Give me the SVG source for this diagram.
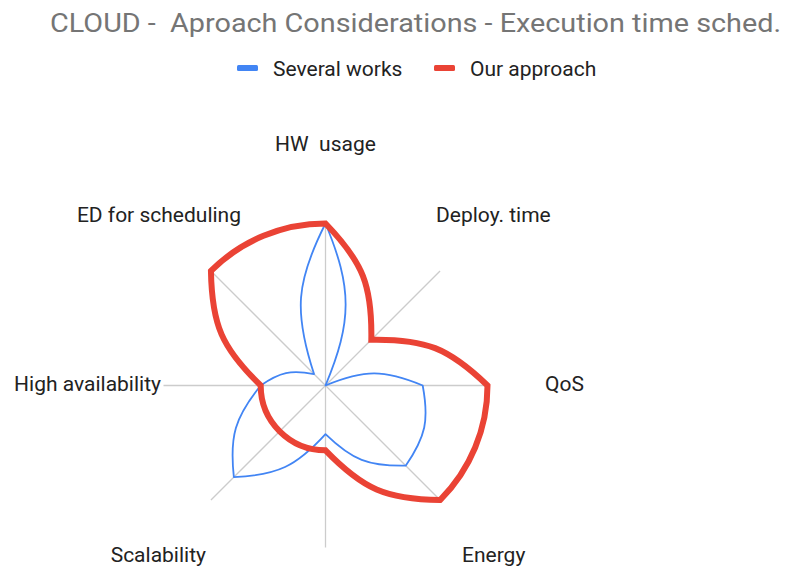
<svg xmlns="http://www.w3.org/2000/svg" width="787" height="570" viewBox="0 0 787 570">
<style>
text{font-family:Roboto,"Liberation Sans",Arial,sans-serif}
.title{font-size:26px;fill:#757575}
.leg{font-size:21px;fill:#222}
.lbl{font-size:21px;fill:#222}
.spoke{stroke:#cccccc;stroke-width:1.3;fill:none}
.blue{stroke:#4285f4;stroke-width:1.8;fill:none;stroke-linejoin:round}
.red{stroke:#ea4335;stroke-width:6;fill:none;stroke-linejoin:miter}
</style>
<rect width="787" height="570" fill="#ffffff"/>
<text class="title" x="50" y="32" xml:space="preserve" textLength="731" lengthAdjust="spacingAndGlyphs">CLOUD -  Aproach Considerations - Execution time sched.</text>
<g id="legend">
<rect x="237" y="65" width="21" height="6" rx="1.5" fill="#4285f4"/>
<text class="leg" x="273" y="75.5">Several works</text>
<rect x="434" y="65" width="21" height="6" rx="1.5" fill="#ea4335"/>
<text class="leg" x="470" y="75.5">Our approach</text>
</g>
<g id="grid">
<line class="spoke" x1="325.5" y1="385.5" x2="325.5" y2="223.5"/>
<line class="spoke" x1="325.5" y1="385.5" x2="440.05" y2="270.95"/>
<line class="spoke" x1="325.5" y1="385.5" x2="487.5" y2="385.5"/>
<line class="spoke" x1="325.5" y1="385.5" x2="440.05" y2="500.05"/>
<line class="spoke" x1="325.5" y1="385.5" x2="325.5" y2="547.5"/>
<line class="spoke" x1="325.5" y1="385.5" x2="210.95" y2="500.05"/>
<line class="spoke" x1="325.5" y1="385.5" x2="163.5" y2="385.5"/>
<line class="spoke" x1="325.5" y1="385.5" x2="210.95" y2="270.95"/>
</g>
<g id="labels">
<text id="lbl-hw" class="lbl" x="325.5" y="151" text-anchor="middle" xml:space="preserve">HW  usage</text>
<text id="lbl-deploy" class="lbl" x="436" y="222">Deploy. time</text>
<text id="lbl-qos" class="lbl" x="545" y="391">QoS</text>
<text id="lbl-energy" class="lbl" x="462" y="562">Energy</text>
<text id="lbl-scal" class="lbl" x="206" y="562" text-anchor="end">Scalability</text>
<text id="lbl-ha" class="lbl" x="161" y="391" text-anchor="end">High availability</text>
<text id="lbl-ed" class="lbl" x="241" y="222" text-anchor="end">ED for scheduling</text>
</g>
<g id="series">
<path id="several-works" class="blue" d="M325.5 223.5 C352.34 288.3 352.34 320.7 325.5 385.5 C364.38 369.4 383.82 369.4 422.7 385.5 C429.18 420.4 425.78 436.43 405.69 465.69 C368.38 466.34 352.34 460.02 325.5 434.1 C295.97 466.5 277.64 475.11 233.86 477.14 C229.41 436.04 234.78 417.71 260.7 385.5 C280.14 372.08 290.81 369.78 314.04 374.04 C293.68 311.93 295.97 281.82 325.5 223.5 Z"/>
<path id="our-approach" class="red" d="M325.5 223.5 C363.08 262.38 372.24 285.62 371.32 339.68 C425.38 338.76 448.62 347.92 487.5 385.5 A162 162 0 0 1 440.05 500.05 C385.99 499.13 363.08 489.18 325.5 450.3 A64.8 64.8 0 0 1 279.68 431.32 A64.8 64.8 0 0 1 260.7 385.5 C221.82 347.92 211.87 325.01 210.95 270.95 A162 162 0 0 1 325.5 223.5 Z"/>
</g>
</svg>
